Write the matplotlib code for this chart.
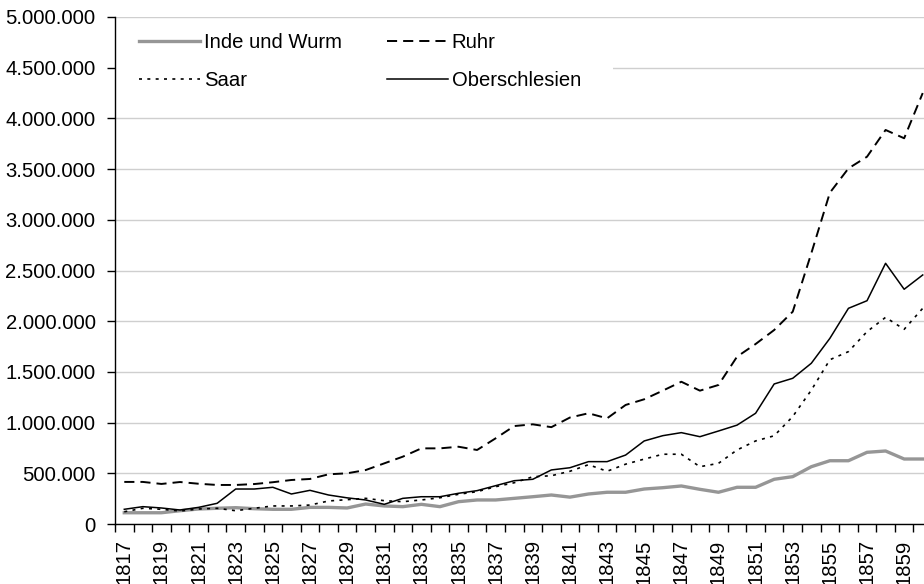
import matplotlib
matplotlib.use("Agg")
import matplotlib.pyplot as plt
from matplotlib.patches import Rectangle
from matplotlib.ticker import FixedLocator, FuncFormatter, NullFormatter

plt.rcParams["font.family"] = ["Liberation Sans", "DejaVu Sans"]
plt.rcParams["font.size"] = 14.6

years = list(range(1817, 1861))

inde = [111000, 111000, 111000, 131000, 148000, 155000, 161000, 151000, 145000, 145000,
        164000, 164000, 158000, 197000, 178000, 171000, 194000, 171000, 220000, 237000,
        237000, 253000, 269000, 286000, 265000, 296000, 313000, 313000, 345000, 358000,
        375000, 342000, 313000, 362000, 362000, 441000, 467000, 565000, 624000, 624000,
        707000, 720000, 641000, 641000]

ruhr = [415000, 415000, 395000, 414000, 397000, 385000, 385000, 394000, 412000, 434000,
        444000, 490000, 500000, 532000, 598000, 664000, 746000, 746000, 762000, 730000,
        845000, 966000, 983000, 955000, 1050000, 1092000, 1042000, 1174000, 1230000, 1315000,
        1403000, 1315000, 1371000, 1650000, 1775000, 1913000, 2094000, 2670000, 3267000, 3507000,
        3622000, 3886000, 3804000, 4250000]

saar = [121000, 155000, 145000, 128000, 148000, 155000, 131000, 155000, 178000, 178000,
        187000, 227000, 240000, 253000, 230000, 220000, 237000, 259000, 293000, 319000,
        368000, 407000, 466000, 476000, 520000, 585000, 520000, 590000, 640000, 688000,
        688000, 565000, 598000, 730000, 819000, 870000, 1060000, 1320000, 1620000, 1700000,
        1897000, 2038000, 1920000, 2127000]

oberschlesien = [145000, 171000, 158000, 138000, 164000, 204000, 345000, 345000, 362000, 296000,
                 332000, 286000, 258000, 237000, 194000, 253000, 269000, 269000, 303000, 329000,
                 378000, 427000, 441000, 533000, 555000, 615000, 615000, 680000, 819000, 871000,
                 901000, 861000, 917000, 975000, 1092000, 1381000, 1437000, 1585000, 1831000, 2127000,
                 2202000, 2571000, 2315000, 2456000]

fig = plt.figure(figsize=(9.24, 5.84), dpi=100)
# axes runs past the right edge, as in the cropped original
ax = fig.add_axes([115 / 924, 60 / 584, 817 / 924, 507 / 584])

l_inde, = ax.plot(years, inde, color="#969696", linewidth=2.4, label="Inde und Wurm", zorder=3)
l_ruhr, = ax.plot(years, ruhr, color="black", linewidth=1.4, linestyle=(0, (5.2, 3.1)),
                  label="Ruhr", zorder=3)
l_saar, = ax.plot(years, saar, color="black", linewidth=1.2, linestyle=(0, (1.8, 3.2)),
                  label="Saar", zorder=3)
l_ober, = ax.plot(years, oberschlesien, color="black", linewidth=1.1,
                  label="Oberschlesien", zorder=3)

ax.set_xlim(1816.5, 1860.5)
ax.set_ylim(0, 5000000)

ax.yaxis.set_major_locator(FixedLocator(range(0, 5000001, 500000)))
ax.yaxis.set_major_formatter(FuncFormatter(lambda v, p: f"{int(v):,}".replace(",", ".")))
ax.yaxis.grid(True, color="#cfcfcf", linewidth=1.0)
ax.set_axisbelow(True)

ax.xaxis.set_major_locator(FixedLocator([y - 0.5 for y in range(1817, 1862)]))
ax.xaxis.set_major_formatter(NullFormatter())
ax.xaxis.set_minor_locator(FixedLocator(list(range(1817, 1861, 2))))
ax.xaxis.set_minor_formatter(FuncFormatter(lambda v, p: str(int(v))))
ax.tick_params(axis="x", which="major", length=6, width=1, color="black")
ax.tick_params(axis="x", which="minor", length=0, pad=11, labelrotation=90)
ax.tick_params(axis="y", length=6, width=1, pad=8)

for side in ["top", "right"]:
    ax.spines[side].set_visible(False)
for side in ["left", "bottom"]:
    ax.spines[side].set_color("black")
    ax.spines[side].set_linewidth(1.0)
    ax.spines[side].set_zorder(6)

# white area behind the legend, hiding the grid as in the original
ax.add_patch(Rectangle((0, 0.835), 0.61, 0.158, transform=ax.transAxes,
                       facecolor="white", edgecolor="none", zorder=1))

# column-first fill: order gives rows (Inde, Ruhr) and (Saar, Oberschlesien)
leg = ax.legend([l_inde, l_saar, l_ruhr, l_ober],
                ["Inde und Wurm", "Saar", "Ruhr", "Oberschlesien"],
                loc="upper left", bbox_to_anchor=(0.0147, 0.993), ncol=2,
                frameon=True, fancybox=False, edgecolor="none", facecolor="white",
                framealpha=1.0, handlelength=3.0, handletextpad=0.2,
                columnspacing=2.2, labelspacing=0.95, borderpad=0.6,
                borderaxespad=0.0)
leg.set_zorder(5)

fig.savefig("out.png", dpi=100)
